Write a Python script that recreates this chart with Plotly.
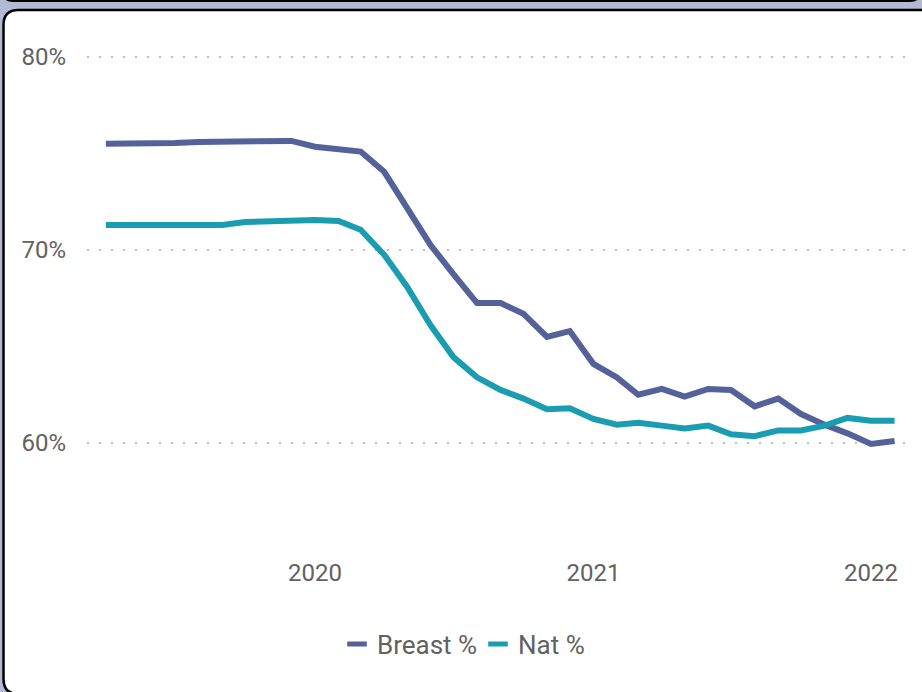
import pandas as pd
import plotly.graph_objects as go

# Monthly series, April 2019 - February 2022 (percent)
months = pd.date_range("2019-04-01", "2022-02-01", freq="MS")
breast_pct = [75.5, 75.5, 75.55, 75.55, 75.6, 75.6, 75.6, 75.6, 75.65, 75.35, 75.25, 75.1,
              74.05, 72.2, 70.25, 68.75, 67.25, 67.25, 66.7, 65.5, 65.8, 64.1, 63.4, 62.5,
              62.8, 62.4, 62.8, 62.75, 61.9, 62.3, 61.5, 60.95, 60.5, 59.95, 60.1]
nat_pct = [71.3, 71.3, 71.25, 71.3, 71.3, 71.3, 71.45, 71.5, 71.55, 71.55, 71.5, 71.05,
           69.75, 68.1, 66.1, 64.45, 63.4, 62.75, 62.3, 61.75, 61.8, 61.25, 60.95, 61.05,
           60.9, 60.75, 60.9, 60.45, 60.35, 60.65, 60.65, 60.9, 61.3, 61.15, 61.15]
series_names = ["Breast %", "Nat %"]
series_colors = ["#55629a", "#1a9db0"]
year_ticks = ["2020-01-01", "2021-01-01", "2022-01-01"]
pct_ticks = [60, 70, 80]
pct_labels = ["60%", "70%", "80%"]

FONT = "Roboto, Open Sans, sans-serif"
TEXT = "#626262"
W, H = 922, 692
L, R, T, B = 87, 907, 50, 540  # plot area in pixels


def px(x):
    return (x - L) / (R - L)


def py(y):
    return (B - y) / (B - T)


def rounded_rect(x0, y0, x1, y1, r):
    return (f"M {px(x0 + r)},{py(y0)} L {px(x1 - r)},{py(y0)} "
            f"Q {px(x1)},{py(y0)} {px(x1)},{py(y0 + r)} L {px(x1)},{py(y1 - r)} "
            f"Q {px(x1)},{py(y1)} {px(x1 - r)},{py(y1)} L {px(x0 + r)},{py(y1)} "
            f"Q {px(x0)},{py(y1)} {px(x0)},{py(y1 - r)} L {px(x0)},{py(y0 + r)} "
            f"Q {px(x0)},{py(y0)} {px(x0 + r)},{py(y0)} Z")


fig = go.Figure()
for name, vals, col in zip(series_names, [breast_pct, nat_pct], series_colors):
    fig.add_trace(go.Scatter(x=months, y=vals, mode="lines", name=name,
                             line=dict(color=col, width=6), showlegend=False,
                             hoverinfo="x+y"))
# compact legend keys
for name, col in zip(series_names, series_colors):
    fig.add_trace(go.Scatter(x=[None], y=[None], mode="markers", name=name,
                             marker=dict(symbol="line-ew", size=14,
                                         line=dict(color=col, width=5))))

day_px = 556 / 731
origin = pd.Timestamp("2020-01-01")
x_lo = origin + pd.Timedelta(days=(L - 315) / day_px)
x_hi = origin + pd.Timedelta(days=(R - 315) / day_px)
px_per_pct = 19.3
y_hi = 80 + (57 - T) / px_per_pct
y_lo = 80 - (B - 57) / px_per_pct

shapes = [
    # edge of the panel above
    dict(type="path", xref="paper", yref="paper", layer="below",
         path=rounded_rect(3, -40, 920, 1, 10),
         fillcolor="white", line=dict(color="black", width=2)),
    # chart card
    dict(type="path", xref="paper", yref="paper", layer="below",
         path=rounded_rect(3.5, 10, 940, 694, 15),
         fillcolor="white", line=dict(color="black", width=2.5)),
]

fig.update_layout(
    width=W, height=H,
    margin=dict(l=L, r=W - R, t=T, b=H - B),
    paper_bgcolor="#b4b9d4",
    plot_bgcolor="rgba(0,0,0,0)",
    font=dict(family=FONT, color=TEXT, size=24),
    shapes=shapes,
    showlegend=True,
    legend=dict(orientation="h", x=px(478), xanchor="center", y=py(644),
                yanchor="middle",
                font=dict(size=26, color=TEXT, family=FONT),
                itemwidth=30, entrywidth=96, entrywidthmode="pixels",
                tracegroupgap=0, bgcolor="rgba(0,0,0,0)"),
    xaxis=dict(range=[x_lo, x_hi], tickvals=year_ticks, tickformat="%Y",
               showgrid=False, zeroline=False, showline=False, ticks="",
               ticklabelstandoff=16,
               tickfont=dict(size=24, color=TEXT, family=FONT)),
    yaxis=dict(range=[y_lo, y_hi], tickvals=pct_ticks, ticktext=pct_labels,
               showgrid=True, gridcolor="#bdbdbd", gridwidth=2,
               griddash="2px,10px", zeroline=False, showline=False, ticks="",
               ticklabelstandoff=20,
               tickfont=dict(size=24, color=TEXT, family=FONT)),
)

fig.write_html("out.html")
